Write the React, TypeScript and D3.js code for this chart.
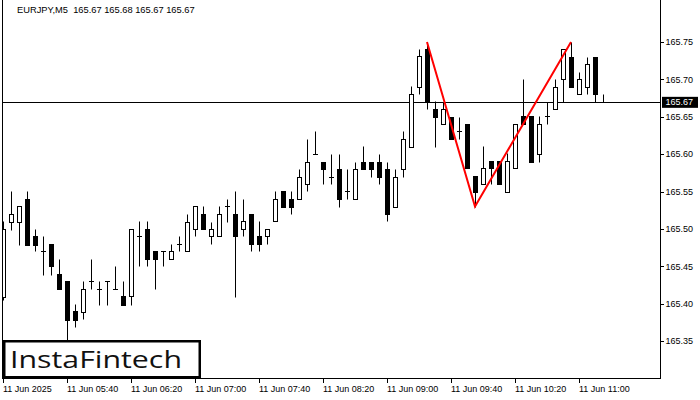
import * as d3 from 'd3';

// EURJPY M5, 11 Jun 2025, bars from 05:00 every 5 minutes
const opens = [
  165.409, 165.51, 165.51, 165.54, 165.491, 165.47, 165.48, 165.44, 165.43, 165.39,
  165.389, 165.43, 165.42, 165.43, 165.42, 165.41, 165.41, 165.49, 165.5, 165.471,
  165.471, 165.46, 165.48, 165.471, 165.5, 165.52, 165.49, 165.49, 165.531, 165.52,
  165.5, 165.52, 165.49, 165.49, 165.511, 165.551, 165.54, 165.54, 165.56, 165.6,
  165.59, 165.57, 165.58, 165.551, 165.54, 165.59, 165.59, 165.59, 165.58, 165.53,
  165.58, 165.61, 165.69, 165.741, 165.66, 165.64, 165.65, 165.631, 165.64, 165.571,
  165.56, 165.591, 165.591, 165.55, 165.581, 165.651, 165.651, 165.6, 165.651, 165.66,
  165.7, 165.73, 165.68, 165.69, 165.73, 165.67,
];
const highs = [
  165.511, 165.551, 165.531, 165.551, 165.5, 165.491, 165.48, 165.46, 165.43, 165.4,
  165.43, 165.46, 165.43, 165.43, 165.45, 165.43, 165.5, 165.511, 165.511, 165.471,
  165.471, 165.48, 165.491, 165.52, 165.531, 165.531, 165.51, 165.531, 165.54, 165.551,
  165.54, 165.52, 165.511, 165.5, 165.551, 165.551, 165.551, 165.58, 165.62, 165.631,
  165.59, 165.6, 165.6, 165.58, 165.59, 165.611, 165.59, 165.6, 165.59, 165.58,
  165.631, 165.691, 165.741, 165.75, 165.671, 165.67, 165.65, 165.65, 165.64, 165.571,
  165.611, 165.591, 165.591, 165.601, 165.64, 165.7, 165.651, 165.651, 165.67, 165.7,
  165.74, 165.75, 165.71, 165.73, 165.73, 165.68,
];
const lows = [
  165.405, 165.499, 165.479, 165.479, 165.47, 165.438, 165.438, 165.42, 165.349, 165.369,
  165.38, 165.42, 165.399, 165.399, 165.42, 165.399, 165.399, 165.45, 165.45, 165.42,
  165.45, 165.46, 165.471, 165.471, 165.49, 165.5, 165.48, 165.49, 165.51, 165.409,
  165.49, 165.47, 165.47, 165.48, 165.511, 165.53, 165.52, 165.54, 165.551, 165.6,
  165.56, 165.56, 165.53, 165.54, 165.54, 165.58, 165.57, 165.56, 165.511, 165.53,
  165.57, 165.61, 165.68, 165.66, 165.61, 165.64, 165.62, 165.62, 165.581, 165.53,
  165.56, 165.56, 165.56, 165.55, 165.581, 165.64, 165.59, 165.59, 165.64, 165.66,
  165.67, 165.69, 165.68, 165.68, 165.67, 165.67,
];
const closes = [
  165.5, 165.52, 165.531, 165.479, 165.479, 165.47, 165.45, 165.42, 165.379, 165.379,
  165.42, 165.43, 165.42, 165.43, 165.42, 165.399, 165.5, 165.49, 165.46, 165.46,
  165.471, 165.471, 165.48, 165.51, 165.531, 165.5, 165.5, 165.52, 165.531, 165.49,
  165.511, 165.48, 165.48, 165.5, 165.54, 165.53, 165.53, 165.57, 165.59, 165.6,
  165.58, 165.57, 165.54, 165.551, 165.58, 165.58, 165.58, 165.57, 165.52, 165.57,
  165.62, 165.68, 165.731, 165.671, 165.65, 165.66, 165.62, 165.631, 165.581, 165.55,
  165.581, 165.581, 165.56, 165.591, 165.64, 165.64, 165.59, 165.64, 165.651, 165.69,
  165.74, 165.69, 165.7, 165.72, 165.68, 165.67,
];

const timeLabels = [
  '11 Jun 2025', '11 Jun 05:40', '11 Jun 06:20', '11 Jun 07:00', '11 Jun 07:40',
  '11 Jun 08:20', '11 Jun 09:00', '11 Jun 09:40', '11 Jun 10:20', '11 Jun 11:00',
];
const barsPerLabel = 8;
const priceTicks = [165.35, 165.4, 165.45, 165.5, 165.55, 165.6, 165.65, 165.7, 165.75];
const lastPrice = 165.67;

// double top: top 1, neckline low, top 2 (bar index, price)
const patternIdx = [53, 59, 71];
const patternPrice = [165.75, 165.53, 165.75];

const W = 700;
const H = 400;
const left = 3;
const right = 660;
const bottom = 378;

const x = d3.scaleLinear().domain([0, (right - left) / 8]).range([left, right]);
const y = d3.scaleLinear().domain([165.35, 165.75]).range([341.2, 42]);

const font = '"Liberation Sans", Arial, sans-serif';

export default function App() {
  const px = (v: number) => Math.round(v) + 0.5;

  const candles = opens.map((o, i) => {
    const c = closes[i];
    const cx = px(x(i));
    const yo = px(y(o));
    const yc = px(y(c));
    const yh = px(y(highs[i]));
    const yl = px(y(lows[i]));
    const top = Math.min(yo, yc);
    const bot = Math.max(yo, yc);
    const up = c >= o;
    return (
      <g key={i}>
        <line x1={cx} x2={cx} y1={yh} y2={yl} stroke="#000" strokeWidth={1} />
        {bot - top < 1 ? (
          <line x1={cx - 2.5} x2={cx + 2.5} y1={top} y2={top} stroke="#000" strokeWidth={1} />
        ) : (
          <rect
            x={cx - 2}
            y={top}
            width={4}
            height={bot - top}
            fill={up ? '#fff' : '#000'}
            stroke="#000"
            strokeWidth={1}
          />
        )}
      </g>
    );
  });

  const pattern = d3
    .line<number>()
    .x((_d, k) => x(patternIdx[k]))
    .y((d) => y(d))(patternPrice);

  const lastY = px(y(lastPrice));

  return (
    <svg
      width={W}
      height={H}
      style={{ position: 'absolute', left: 0, top: 0, background: '#fff' }}
    >
      <defs>
        <clipPath id="plot">
          <rect x={left} y={0} width={right - left} height={bottom} />
        </clipPath>
      </defs>
      <rect width={W} height={H} fill="#fff" />

      <g clipPath="url(#plot)">
        <line x1={left} x2={right} y1={lastY} y2={lastY} stroke="#000" strokeWidth={1} />
        {candles}
        <path d={pattern ?? ''} fill="none" stroke="#ff0000" strokeWidth={2} />
      </g>

      {/* frame */}
      <line x1={left - 0.5} x2={left - 0.5} y1={0} y2={bottom} stroke="#000" />
      <line x1={right + 0.5} x2={right + 0.5} y1={0} y2={bottom + 0.5} stroke="#000" />
      <line x1={left - 1} x2={right + 1} y1={bottom + 0.5} y2={bottom + 0.5} stroke="#000" />

      {/* price axis */}
      {priceTicks.map((p) => (
        <g key={p}>
          <line x1={right} x2={right + 4} y1={px(y(p))} y2={px(y(p))} stroke="#000" />
          <text
            x={right + 5.5}
            y={y(p)}
            dy="0.35em"
            fontFamily={font}
            fontSize={9}
            fill="#000"
          >
            {p.toFixed(2)}
          </text>
        </g>
      ))}
      <rect x={right + 2} y={y(lastPrice) - 5} width={36} height={11} fill="#000" />
      <text
        x={right + 5.5}
        y={y(lastPrice)}
        dy="0.37em"
        fontFamily={font}
        fontSize={9}
        fill="#fff"
      >
        {lastPrice.toFixed(2)}
      </text>

      {/* time axis */}
      {timeLabels.map((t, k) => {
        const tx = px(x(k * barsPerLabel));
        return (
          <g key={t}>
            <line x1={tx} x2={tx} y1={bottom} y2={bottom + 5} stroke="#000" />
            <text x={tx - 0.5} y={391.5} fontFamily={font} fontSize={9} fill="#000">
              {t}
            </text>
          </g>
        );
      })}

      {/* header */}
      <text x={17} y={13} fontFamily={font} fontSize={9.3} fill="#000" xmlSpace="preserve">
        {'EURJPY,M5  165.67 165.68 165.67 165.67'}
      </text>

      {/* logo */}
      <rect x={4.25} y={341.25} width={195.5} height={36} fill="#fff" stroke="#000" strokeWidth={2.5} />
      <text
        x={10}
        y={368}
        fontFamily='"Open Sans", "Noto Sans", sans-serif'
        fontWeight={500}
        fontSize={24}
        textLength={172}
        lengthAdjust="spacingAndGlyphs"
        fill="#111"
      >
        InstaFintech
      </text>
    </svg>
  );
}
